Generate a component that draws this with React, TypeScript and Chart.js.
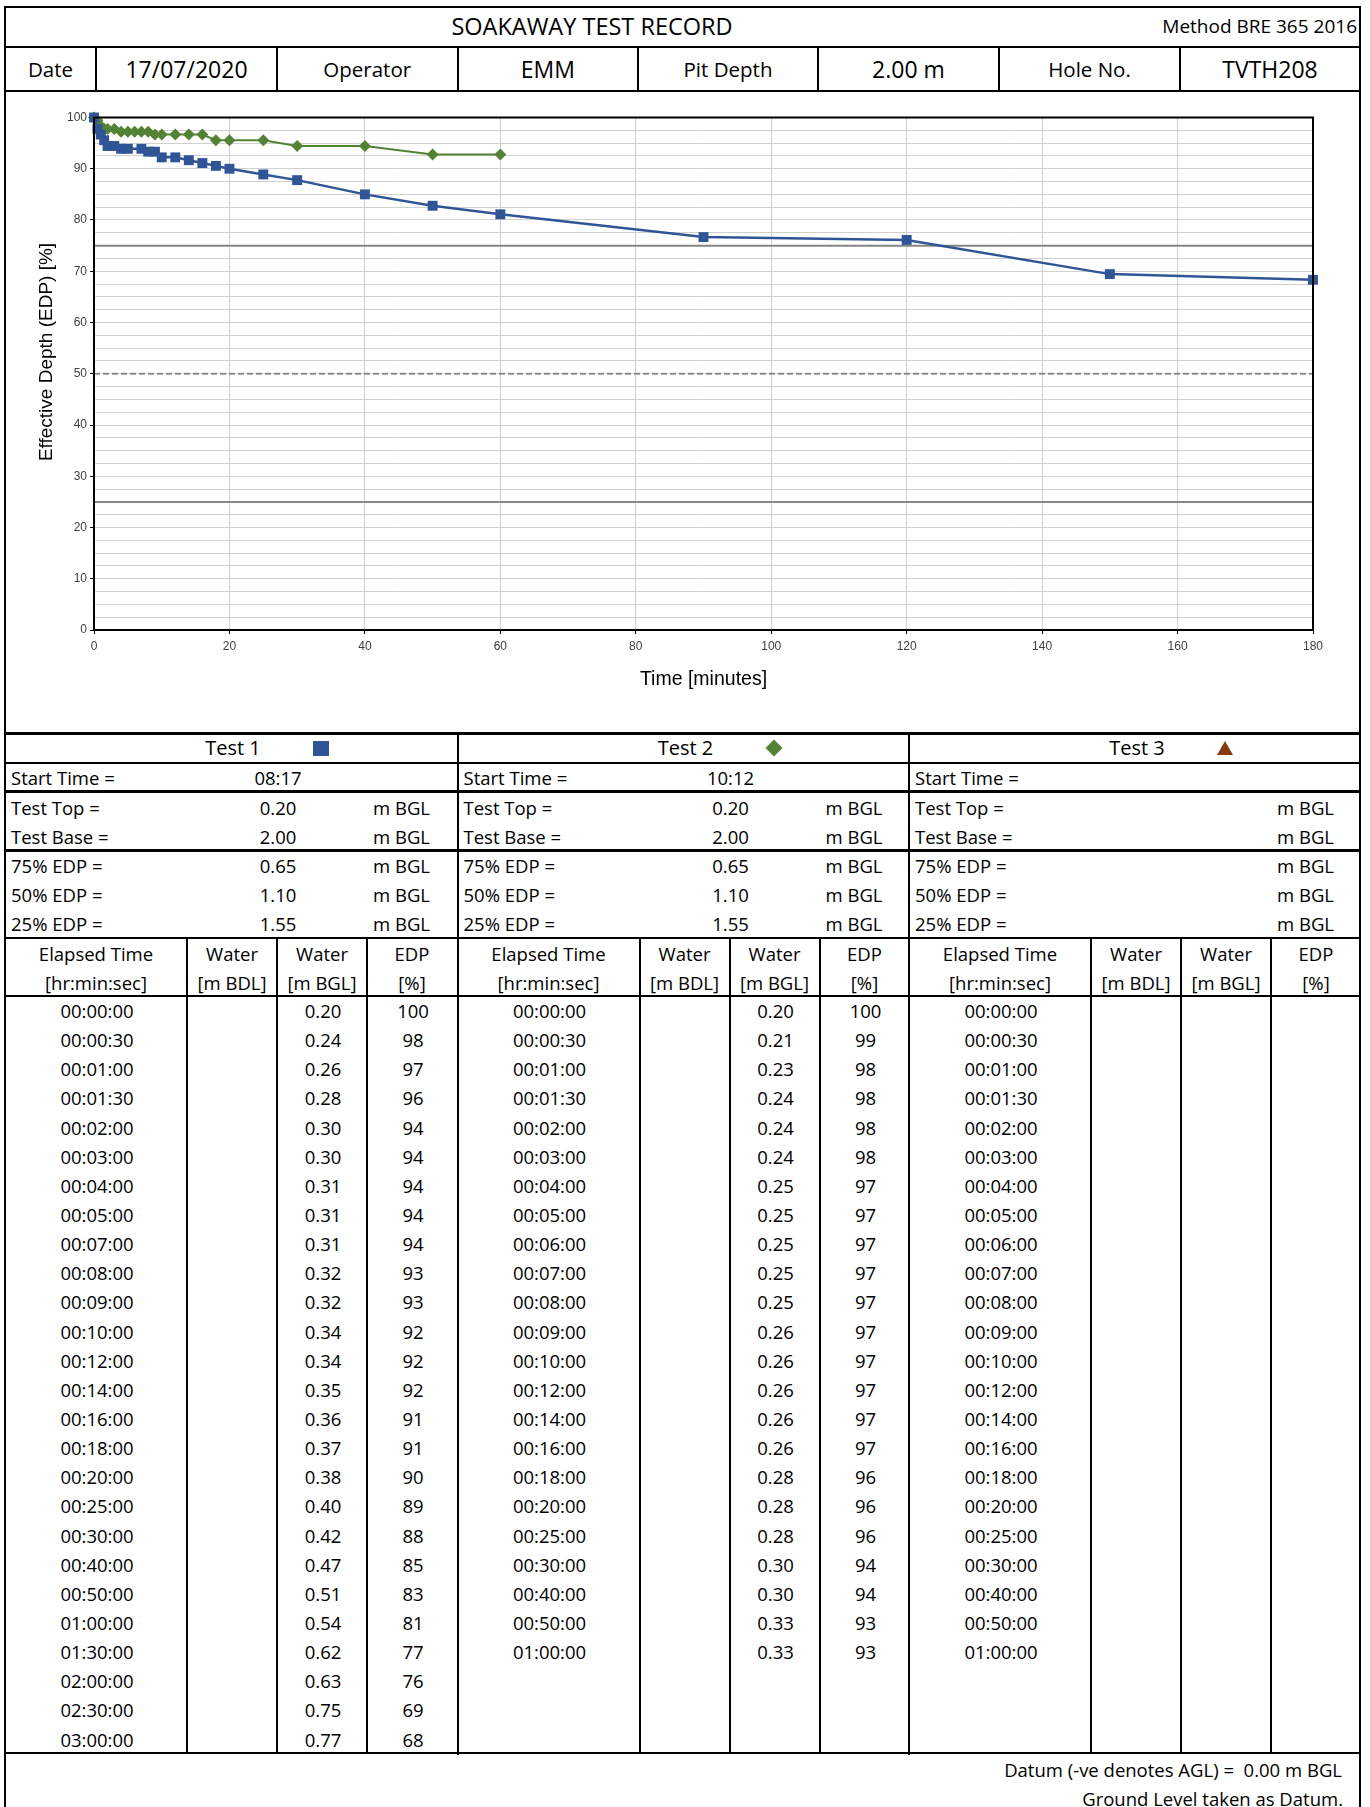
import React, { useEffect, useRef } from 'react';
import { Chart, registerables } from 'chart.js';

Chart.register(...registerables);

const FONT = '"Open Sans", "Noto Sans", sans-serif';
const CHART_FONT = '"Liberation Sans", Arial, sans-serif';

// ---------- Data ----------
const test1Times = ['00:00:00', '00:00:30', '00:01:00', '00:01:30', '00:02:00', '00:03:00', '00:04:00', '00:05:00', '00:07:00', '00:08:00', '00:09:00', '00:10:00', '00:12:00', '00:14:00', '00:16:00', '00:18:00', '00:20:00', '00:25:00', '00:30:00', '00:40:00', '00:50:00', '01:00:00', '01:30:00', '02:00:00', '02:30:00', '03:00:00'];
const test1Minutes = [0, 0.5, 1, 1.5, 2, 3, 4, 5, 7, 8, 9, 10, 12, 14, 16, 18, 20, 25, 30, 40, 50, 60, 90, 120, 150, 180];
const test1WaterBgl = ['0.20', '0.24', '0.26', '0.28', '0.30', '0.30', '0.31', '0.31', '0.31', '0.32', '0.32', '0.34', '0.34', '0.35', '0.36', '0.37', '0.38', '0.40', '0.42', '0.47', '0.51', '0.54', '0.62', '0.63', '0.75', '0.77'];
const test1Edp = [100, 97.78, 96.67, 95.56, 94.44, 94.44, 93.89, 93.89, 93.89, 93.33, 93.33, 92.22, 92.22, 91.67, 91.11, 90.56, 90.0, 88.89, 87.78, 85.0, 82.78, 81.11, 76.67, 76.11, 69.44, 68.33];

const test2Times = ['00:00:00', '00:00:30', '00:01:00', '00:01:30', '00:02:00', '00:03:00', '00:04:00', '00:05:00', '00:06:00', '00:07:00', '00:08:00', '00:09:00', '00:10:00', '00:12:00', '00:14:00', '00:16:00', '00:18:00', '00:20:00', '00:25:00', '00:30:00', '00:40:00', '00:50:00', '01:00:00'];
const test2Minutes = [0, 0.5, 1, 1.5, 2, 3, 4, 5, 6, 7, 8, 9, 10, 12, 14, 16, 18, 20, 25, 30, 40, 50, 60];
const test2WaterBgl = ['0.20', '0.21', '0.23', '0.24', '0.24', '0.24', '0.25', '0.25', '0.25', '0.25', '0.25', '0.26', '0.26', '0.26', '0.26', '0.26', '0.28', '0.28', '0.28', '0.30', '0.30', '0.33', '0.33'];
const test2Edp = [100, 99.44, 98.33, 97.78, 97.78, 97.78, 97.22, 97.22, 97.22, 97.22, 97.22, 96.67, 96.67, 96.67, 96.67, 96.67, 95.56, 95.56, 95.56, 94.44, 94.44, 92.78, 92.78];

const test3Times = ['00:00:00', '00:00:30', '00:01:00', '00:01:30', '00:02:00', '00:03:00', '00:04:00', '00:05:00', '00:06:00', '00:07:00', '00:08:00', '00:09:00', '00:10:00', '00:12:00', '00:14:00', '00:16:00', '00:18:00', '00:20:00', '00:25:00', '00:30:00', '00:40:00', '00:50:00', '01:00:00'];

const referenceLevels = [75, 50, 25];
const xRange = [0, 180];
const yRange = [0, 100];

const headerLabels = ['Date', '17/07/2020', 'Operator', 'EMM', 'Pit Depth', '2.00 m', 'Hole No.', 'TVTH208'];
const sectionNames = ['Test 1', 'Test 2', 'Test 3'];
const startTimes = ['08:17', '10:12', ''];
const testTops = ['0.20', '0.20', ''];
const testBases = ['2.00', '2.00', ''];
const edp75 = ['0.65', '0.65', ''];
const edp50 = ['1.10', '1.10', ''];
const edp25 = ['1.55', '1.55', ''];

const BLUE = '#2F5597';
const GREEN = '#548235';
const BROWN = '#843C0C';

// ---------- Layout helpers ----------
type TProps = { x: number; y: number; align?: 'left' | 'center' | 'right'; size?: number; children?: React.ReactNode };
function T({ x, y, align = 'center', size = 18.5, children }: TProps) {
  const h = 30;
  let left = x;
  let width = 400;
  if (align === 'center') { left = x - 200; }
  if (align === 'right') { left = x - 700; width = 700; }
  return (
    <div style={{ position: 'absolute', left, top: y - h / 2, width, height: h, lineHeight: h + 'px', textAlign: align, fontSize: size, fontFamily: FONT, color: '#000', whiteSpace: 'nowrap' }}>{children}</div>
  );
}

function HL({ y, x1, x2, t = 2 }: { y: number; x1: number; x2: number; t?: number }) {
  return <div style={{ position: 'absolute', left: x1, top: y - t / 2, width: x2 - x1, height: t, background: '#000' }} />;
}
function VL({ x, y1, y2, t = 2 }: { x: number; y1: number; y2: number; t?: number }) {
  return <div style={{ position: 'absolute', left: x - t / 2, top: y1, width: t, height: y2 - y1, background: '#000' }} />;
}

const L = 5;
const R = 1360;
const SECT = [5, 457.5, 909];
const SUBOFF = [182, 272, 362];
const ROW_TOP = 996;
const ROW_H = 29.14;

function ChartBox() {
  const ref = useRef<HTMLCanvasElement | null>(null);
  useEffect(() => {
    if (!ref.current) return;
    const frame = {
      id: 'frame',
      afterDraw(chart: any) {
        const { ctx, chartArea } = chart;
        ctx.save();
        ctx.strokeStyle = '#000';
        ctx.lineWidth = 2;
        ctx.strokeRect(chartArea.left, chartArea.top, chartArea.right - chartArea.left, chartArea.bottom - chartArea.top);
        ctx.translate(40, 259);
        ctx.rotate(-Math.PI / 2);
        ctx.font = '19px ' + CHART_FONT;
        ctx.fillStyle = '#000';
        ctx.textAlign = 'center';
        ctx.textBaseline = 'middle';
        ctx.fillText('Effective Depth (EDP) [%]', 0, 0);
        ctx.restore();
      },
    };
    const refDatasets = referenceLevels.map((lvl) => ({
      data: [{ x: xRange[0], y: lvl }, { x: xRange[1], y: lvl }],
      borderColor: lvl === 50 ? '#8c8c8c' : '#858585',
      borderWidth: 2,
      borderDash: lvl === 50 ? [6, 3] : [],
      pointRadius: 0,
      fill: false,
    }));
    const chart = new Chart(ref.current, {
      type: 'line',
      data: {
        datasets: [
          {
            label: 'Test 1',
            data: test1Minutes.map((m, i) => ({ x: m, y: test1Edp[i] })),
            borderColor: BLUE,
            backgroundColor: BLUE,
            borderWidth: 2.5,
            pointStyle: 'rect',
            pointRadius: 7,
            pointBorderWidth: 0,
            fill: false,
            clip: false,
          } as any,
          {
            label: 'Test 2',
            data: test2Minutes.map((m, i) => ({ x: m, y: test2Edp[i] })),
            borderColor: GREEN,
            backgroundColor: GREEN,
            borderWidth: 2,
            pointStyle: 'rectRot',
            pointRadius: 6,
            pointBorderWidth: 0,
            fill: false,
            clip: false,
          } as any,
          ...refDatasets,
        ],
      },
      options: {
        animation: false,
        responsive: false,
        maintainAspectRatio: false,
        devicePixelRatio: 1,
        layout: { padding: { left: 0, right: 46, top: 24.5, bottom: 0 } },
        plugins: { legend: { display: false }, tooltip: { enabled: false } },
        scales: {
          x: {
            type: 'linear',
            min: xRange[0],
            max: xRange[1],
            ticks: { stepSize: 20, font: { family: CHART_FONT, size: 12 }, color: '#404040', padding: 5, maxRotation: 0 },
            grid: { color: '#d0d0d0', lineWidth: 1, tickColor: '#000', tickLength: 4 },
            border: { display: false },
            title: { display: true, text: 'Time [minutes]', font: { family: CHART_FONT, size: 19.5 }, color: '#000', padding: { top: 4, bottom: 40 } },
            afterFit: (s: any) => { s.height = 101; },
          },
          y: {
            type: 'linear',
            min: yRange[0],
            max: yRange[1],
            ticks: {
              stepSize: 2.5,
              autoSkip: false,
              font: { family: CHART_FONT, size: 12 },
              color: '#404040',
              padding: 3,
              callback: (v: any) => (Number(v) % 10 === 0 ? String(v) : ''),
            },
            grid: {
              color: '#d0d0d0',
              lineWidth: 1,
              tickLength: 4,
              tickColor: (c: any) => (c.tick && c.tick.value % 10 === 0 ? '#000' : 'rgba(0,0,0,0)'),
            },
            border: { display: false },
            afterFit: (s: any) => { s.width = 87; },
          },
        },
      } as any,
      plugins: [frame],
    });
    return () => chart.destroy();
  }, []);
  return (
    <div style={{ position: 'absolute', left: 7, top: 93, width: 1352, height: 638 }}>
      <canvas ref={ref} width={1352} height={638} style={{ width: 1352, height: 638, display: 'block' }} />
    </div>
  );
}

function Marker({ kind, x, y }: { kind: number; x: number; y: number }) {
  if (kind === 0) return <div style={{ position: 'absolute', left: x - 8, top: y - 7.5, width: 16, height: 15, background: BLUE }} />;
  if (kind === 1) return <div style={{ position: 'absolute', left: x - 6, top: y - 6, width: 12, height: 12, background: GREEN, transform: 'rotate(45deg)' }} />;
  return <div style={{ position: 'absolute', left: x - 8, top: y - 7, width: 0, height: 0, borderLeft: '8px solid transparent', borderRight: '8px solid transparent', borderBottom: '14px solid ' + BROWN }} />;
}

export default function App() {
  const headerCols = [5, 96, 277, 457.5, 638, 818, 999, 1180, 1360];
  const sections = [0, 1, 2];
  const times = [test1Times, test2Times, test3Times];
  const bgl = [test1WaterBgl, test2WaterBgl, [] as string[]];
  const edps = [test1Edp, test2Edp, [] as number[]];
  const infoRows: [string, string[], number, boolean][] = [
    ['Start Time =', startTimes, 778, false],
    ['Test Top =', testTops, 808, true],
    ['Test Base =', testBases, 837, true],
    ['75% EDP =', edp75, 866, true],
    ['50% EDP =', edp50, 895, true],
    ['25% EDP =', edp25, 924, true],
  ];
  const colHeads: [string, string][] = [['Elapsed Time', '[hr:min:sec]'], ['Water', '[m BDL]'], ['Water', '[m BGL]'], ['EDP', '[%]']];
  const colBounds = [0, 182, 272, 362, 452];
  return (
    <div style={{ position: 'absolute', left: 0, top: 0, width: 1370, height: 1807, background: '#fff', overflow: 'hidden' }}>
      {/* header */}
      <T x={592} y={26} size={23.5}>SOAKAWAY TEST RECORD</T>
      <T x={1357} y={26} align="right" size={19}>Method BRE 365 2016</T>
      {headerLabels.map((lab, i) => (
        <T key={'h' + i} x={(headerCols[i] + headerCols[i + 1]) / 2} y={69} size={i % 2 === 1 ? 23 : 20.5}>{lab}</T>
      ))}
      <ChartBox />
      {/* sections */}
      {sections.map((s) => {
        const sx = SECT[s];
        return (
          <React.Fragment key={'s' + s}>
            <T x={sx + 228} y={748} size={20}>{sectionNames[s]}</T>
            <Marker kind={s} x={sx + 316} y={748} />
            {infoRows.map(([lab, vals, y, unit], k) => (
              <React.Fragment key={'i' + k}>
                <T x={sx + 6} y={y} align="left">{lab}</T>
                <T x={sx + 273} y={y}>{vals[s]}</T>
                {unit ? <T x={sx + 368} y={y} align="left">m BGL</T> : null}
              </React.Fragment>
            ))}
            {colHeads.map(([a, b], k) => (
              <React.Fragment key={'c' + k}>
                <T x={sx + (colBounds[k] + colBounds[k + 1]) / 2} y={954}>{a}</T>
                <T x={sx + (colBounds[k] + colBounds[k + 1]) / 2} y={983}>{b}</T>
              </React.Fragment>
            ))}
            {times[s].map((t, r) => (
              <React.Fragment key={'r' + r}>
                <T x={sx + 92} y={ROW_TOP + ROW_H * r + ROW_H / 2 + 0.5}>{t}</T>
                {bgl[s][r] !== undefined ? <T x={sx + 318} y={ROW_TOP + ROW_H * r + ROW_H / 2 + 0.5}>{bgl[s][r]}</T> : null}
                {edps[s][r] !== undefined ? <T x={sx + 408} y={ROW_TOP + ROW_H * r + ROW_H / 2 + 0.5}>{String(Math.round(edps[s][r]))}</T> : null}
              </React.Fragment>
            ))}
          </React.Fragment>
        );
      })}
      {/* footer */}
      <T x={1342} y={1770} align="right">Datum (-ve denotes AGL) =&nbsp; 0.00 m BGL</T>
      <T x={1343} y={1799} align="right">Ground Level taken as Datum.</T>

      {/* lines */}
      <HL y={7} x1={L - 1} x2={R + 1} />
      <HL y={46.5} x1={L} x2={R} />
      <HL y={91} x1={L} x2={R} />
      <HL y={733} x1={L} x2={R} t={3} />
      <HL y={763} x1={L} x2={R} t={2} />
      <HL y={791} x1={L} x2={R} t={3} />
      <HL y={850} x1={L} x2={R} t={3} />
      <HL y={938} x1={L} x2={R} t={2.5} />
      <HL y={996} x1={L} x2={R} t={2} />
      <HL y={1753} x1={L} x2={R} t={2.5} />
      <VL x={L} y1={6} y2={1807} />
      <VL x={R} y1={6} y2={1807} />
      {headerCols.slice(1, -1).map((x, i) => <VL key={'hc' + i} x={x} y1={46.5} y2={91} />)}
      <VL x={SECT[1]} y1={733} y2={1755} />
      <VL x={SECT[2]} y1={733} y2={1755} />
      {SECT.map((sx, i) => SUBOFF.map((o, j) => <VL key={'sv' + i + j} x={sx + o} y1={938} y2={1753} />))}
    </div>
  );
}
